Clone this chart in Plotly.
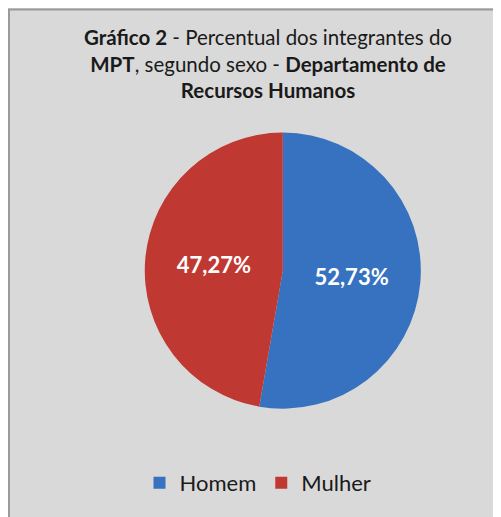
import plotly.graph_objects as go

labels = ["Homem", "Mulher"]
values = [52.73, 47.27]
text_labels = ["52,73%", "47,27%"]
colors = ["#3672bf", "#bf3932"]

fig = go.Figure(go.Pie(
    labels=labels,
    values=values,
    text=text_labels,
    textinfo="text",
    textposition="inside",
    insidetextorientation="horizontal",
    textfont=dict(family="Lato", size=22, color="white", weight="bold"),
    marker=dict(colors=colors, line=dict(width=0)),
    sort=False,
    direction="clockwise",
    rotation=0,
    domain=dict(x=[0.273, 0.824], y=[0.225, 0.759]),
    hoverinfo="label+percent",
))

title_text = ("<b>Gráfico 2</b> - Percentual dos integrantes do<br>"
              "<b>MPT</b>, segundo sexo - <b>Departamento de</b><br>"
              "<b>Recursos Humanos</b>")

fig.add_shape(type="rect", xref="paper", yref="paper", x0=0.002, y0=0.002, x1=0.996, y1=0.997,
              line=dict(color="#9a9a9a", width=2))

fig.update_layout(
    width=501, height=517,
    margin=dict(l=0, r=0, t=0, b=0),
    paper_bgcolor="#d9d9d9",
    plot_bgcolor="#d9d9d9",
    title=dict(text=title_text, x=260 / 501, xanchor="center", y=1 - 37 / 517, yanchor="top",
               font=dict(family="Lato", size=20.5, color="#1a1a1a")),
    showlegend=True,
    legend=dict(orientation="h", x=250 / 501, xanchor="center", y=1 - 475 / 517, yanchor="middle",
                font=dict(family="Lato", size=22, color="#1a1a1a"), itemwidth=30,
                bgcolor="rgba(0,0,0,0)"),
)

fig.write_html("out.html")
